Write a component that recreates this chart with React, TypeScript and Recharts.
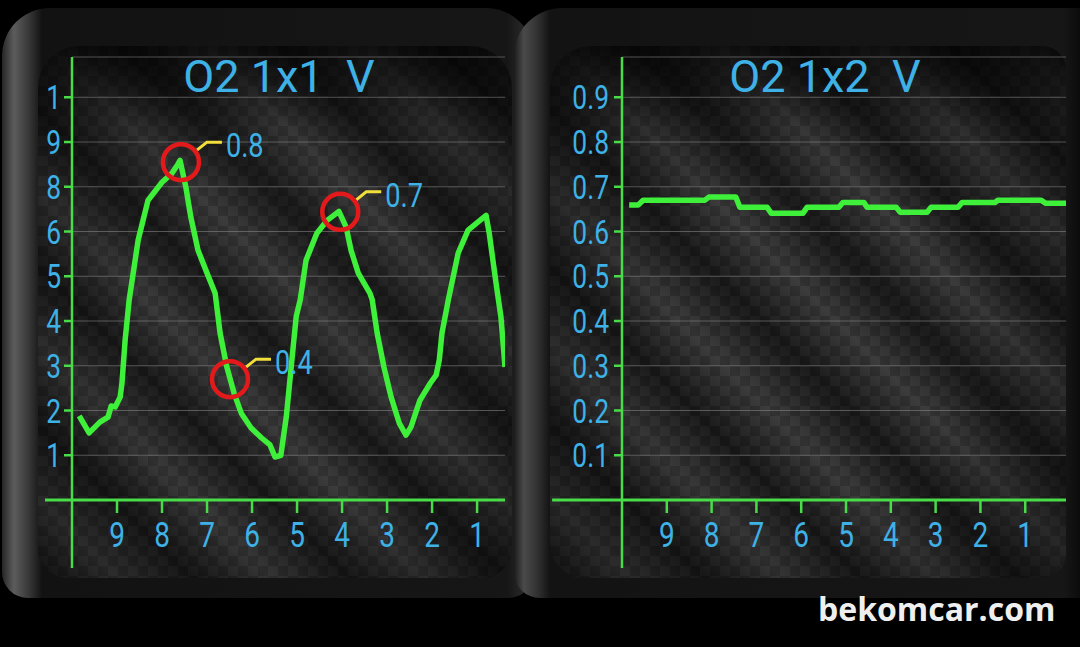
import React from 'react';
import {
  LineChart,
  Line,
  XAxis,
  YAxis,
  CartesianGrid,
  ReferenceLine,
  ReferenceDot,
} from 'recharts';

// seconds ago, shown on both panels
const xTicks = [9, 8, 7, 6, 5, 4, 3, 2, 1];
const yTicks = [0.1, 0.2, 0.3, 0.4, 0.5, 0.6, 0.7, 0.8, 0.9];
// the left gauge prints its labels cut off like this (bottom to top)
const leftYLabels = ['1', '2', '3', '4', '5', '6', '8', '9', '1'];
const rightYLabels = ['0.1', '0.2', '0.3', '0.4', '0.5', '0.6', '0.7', '0.8', '0.9'];

// O2 bank 1 sensor 1 (V)
const s1Time = [
  9.84, 9.62, 9.38, 9.2, 9.13, 9.04, 8.93, 8.89, 8.82, 8.73, 8.53, 8.31, 8.0, 7.78, 7.65, 7.6,
  7.47, 7.36, 7.2, 7.0, 6.82, 6.71, 6.56, 6.4, 6.24, 6.02, 5.78, 5.6, 5.49, 5.36, 5.24, 5.13,
  5.02, 4.93, 4.8, 4.56, 4.33, 4.07, 3.91, 3.8, 3.64, 3.38, 3.33, 3.22, 3.07, 2.91, 2.73, 2.58,
  2.47, 2.27, 2.04, 1.91, 1.84, 1.78, 1.64, 1.42, 1.2, 0.8, 0.73, 0.58, 0.47, 0.38,
];
const s1Volt = [
  0.188, 0.15, 0.174, 0.185, 0.21, 0.208, 0.23, 0.261, 0.357, 0.447, 0.581, 0.67, 0.71, 0.73, 0.75, 0.759,
  0.699, 0.632, 0.558, 0.507, 0.462, 0.373, 0.297, 0.239, 0.194, 0.161, 0.138, 0.123, 0.096, 0.1, 0.185, 0.297,
  0.409, 0.447, 0.536, 0.596, 0.625, 0.645, 0.61, 0.558, 0.507, 0.462, 0.447, 0.373, 0.297, 0.23, 0.172, 0.145,
  0.163, 0.223, 0.261, 0.279, 0.313, 0.373, 0.447, 0.552, 0.603, 0.636, 0.596, 0.485, 0.409, 0.297,
];

// O2 bank 1 sensor 2 (V)
const s2Time = [
  9.84, 9.64, 9.53, 8.15, 8.06, 7.46, 7.37, 6.76, 6.67, 5.96, 5.87, 5.16, 5.07, 4.6, 4.53, 3.88,
  3.79, 3.19, 3.1, 2.5, 2.41, 1.67, 1.61, 0.65, 0.54, 0.09,
];
const s2Volt = [
  0.659, 0.659, 0.67, 0.67, 0.677, 0.677, 0.654, 0.654, 0.641, 0.641, 0.654, 0.654, 0.665, 0.665, 0.654, 0.654,
  0.643, 0.643, 0.654, 0.654, 0.665, 0.665, 0.67, 0.67, 0.663, 0.663,
];

// circled readings on the first sensor
const markTime = [7.58, 6.49, 4.04];
const markVolt = [0.755, 0.27, 0.644];
const markText = ['0.8', '0.4', '0.7'];

const s1Data = s1Time.map((t, i) => ({ t, v: s1Volt[i] }));
const s2Data = s2Time.map((t, i) => ({ t, v: s2Volt[i] }));

const GREEN = '#3ff03a';
const AXIS = '#48dc48';
const BLUE = '#3eb1e6';
const FONT = 'Roboto, "Noto Sans", sans-serif';

function XTick(props: any) {
  const { x, y, payload } = props;
  return (
    <g transform={`translate(${x},${y}) scale(0.8,1)`}>
      <text x={0} y={34} textAnchor="middle" fill={BLUE} fontSize={35} fontFamily={FONT}>
        {payload.value}
      </text>
    </g>
  );
}

function makeYTick(labels: string[]) {
  return (props: any) => {
    const { x, y, payload } = props;
    const i = yTicks.indexOf(payload.value);
    return (
      <g transform={`translate(${x},${y}) scale(0.8,1)`}>
        <text x={0} y={12} textAnchor="end" fill={BLUE} fontSize={33} fontFamily={FONT}>
          {labels[i]}
        </text>
      </g>
    );
  };
}

function Callout({ cx, cy, text }: { cx: number; cy: number; text: string }) {
  return (
    <g>
      <polyline
        points={`${cx + 16},${cy - 12} ${cx + 26},${cy - 20} ${cx + 41},${cy - 20}`}
        fill="none"
        stroke="#f3df3c"
        strokeWidth={3}
      />
      <circle cx={cx} cy={cy} r={18} fill="none" stroke="#e21a1c" strokeWidth={4.5} />
      <g transform={`translate(${cx + 45},${cy - 5}) scale(0.8,1)`}>
        <text x={0} y={0} fill={BLUE} fontSize={34} fontFamily={FONT}>
          {text}
        </text>
      </g>
    </g>
  );
}

const carbon: React.CSSProperties = {
  backgroundColor: '#232323',
  backgroundImage: [
    'radial-gradient(ellipse at 50% 55%, rgba(0,0,0,0) 40%, rgba(0,0,0,0.45) 100%)',
    'linear-gradient(180deg, rgba(0,0,0,0.6) 0px, rgba(0,0,0,0) 80px)',
    'repeating-linear-gradient(45deg, rgba(0,0,0,0.35) 0px, rgba(255,255,255,0.08) 55px, rgba(0,0,0,0.35) 110px)',
    'conic-gradient(rgba(255,255,255,0.035) 0 25%, rgba(0,0,0,0.08) 0 50%, rgba(255,255,255,0.035) 0 75%, rgba(0,0,0,0.08) 0)',
  ].join(','),
  backgroundSize: '100% 100%, 100% 100%, auto, 20px 20px',
};

type PanelProps = {
  left: number;
  width: number;
  rightMargin: number;
  yAxisWidth: number;
  tickMargin: number;
  xMin: number;
  xLeftEnd: number;
  labels: string[];
  data: { t: number; v: number }[];
  marks: boolean;
};

function Panel(p: PanelProps) {
  const YTick = makeYTick(p.labels);
  return (
    <div style={{ position: 'absolute', left: p.left, top: 0 }}>
      <LineChart
        width={p.width}
        height={647}
        data={p.data}
        margin={{ top: 57, right: p.rightMargin, bottom: 107, left: 22 }}
      >
        <CartesianGrid vertical={false} stroke="#8a8a8a" strokeOpacity={0.55} strokeWidth={1} />
        <XAxis
          dataKey="t"
          type="number"
          domain={[p.xMin, 10]}
          reversed
          allowDataOverflow
          ticks={xTicks}
          height={40}
          tickSize={13}
          tickMargin={0}
          axisLine={{ stroke: AXIS, strokeWidth: 3 }}
          tickLine={{ stroke: AXIS, strokeWidth: 2.5 }}
          tick={XTick}
          interval={0}
        />
        <YAxis
          type="number"
          domain={[0, 0.99]}
          allowDataOverflow
          ticks={yTicks}
          width={p.yAxisWidth}
          tickSize={8}
          tickMargin={p.tickMargin}
          axisLine={{ stroke: AXIS, strokeWidth: 2.5 }}
          tickLine={{ stroke: AXIS, strokeWidth: 2.5 }}
          tick={YTick}
          interval={0}
        />
        <ReferenceLine
          segment={[{ x: 10, y: 0 }, { x: 10, y: -0.152 }]}
          stroke={AXIS}
          strokeWidth={2.5}
          ifOverflow="visible"
        />
        <ReferenceLine
          segment={[{ x: 10, y: 0 }, { x: p.xLeftEnd, y: 0 }]}
          stroke={AXIS}
          strokeWidth={3}
          ifOverflow="visible"
        />
        <Line
          type="linear"
          dataKey="v"
          stroke={GREEN}
          strokeWidth={5.5}
          dot={false}
          strokeLinejoin="round"
          isAnimationActive={false}
        />
        {p.marks &&
          markTime.map((t, i) => (
            <ReferenceDot
              key={i}
              x={t}
              y={markVolt[i]}
              r={18}
              shape={(sp: any) => <Callout cx={sp.cx} cy={sp.cy} text={markText[i]} />}
            />
          ))}
      </LineChart>
    </div>
  );
}

export default function App() {
  return (
    <div
      style={{
        position: 'absolute',
        left: 0,
        top: 0,
        width: 1080,
        height: 647,
        background: '#000',
        overflow: 'hidden',
      }}
    >
      {/* left bezel */}
      <div
        style={{
          position: 'absolute',
          left: 2,
          top: 8,
          width: 532,
          height: 590,
          borderRadius: '48px 48px 26px 26px',
          background:
            'linear-gradient(90deg, #262626 0px, #5c5c5c 12px, #3a3a3a 26px, #121212 40px, #161616 505px, #262626 520px, #141414 532px)',
        }}
      />
      {/* right bezel */}
      <div
        style={{
          position: 'absolute',
          left: 514,
          top: 8,
          width: 580,
          height: 590,
          borderRadius: '48px 0 0 26px',
          background:
            'linear-gradient(90deg, #1c1c1c 0px, #4a4a4a 10px, #303030 24px, #131313 36px, #161616 550px, #0c0c0c 566px)',
        }}
      />
      <div style={{ position: 'absolute', left: 38, top: 46, width: 474, height: 532, borderRadius: '42px 42px 30px 30px', ...carbon }} />
      <div style={{ position: 'absolute', left: 550, top: 46, width: 516, height: 532, borderRadius: '42px 24px 24px 34px', ...carbon }} />

      <Panel left={0} width={540} rightMargin={35} yAxisWidth={50} tickMargin={3} xMin={0.38} xLeftEnd={10.6} labels={leftYLabels} data={s1Data} marks />
      <Panel left={540} width={540} rightMargin={14} yAxisWidth={60} tickMargin={5} xMin={0.09} xLeftEnd={11.56} labels={rightYLabels} data={s2Data} marks={false} />

      <svg width={1080} height={647} style={{ position: 'absolute', left: 0, top: 0, pointerEvents: 'none' }}>
        <text x={279} y={92} textAnchor="middle" fill={BLUE} fontSize={45} fontFamily={FONT}>
          O2 1x1{'\u00a0\u00a0'}V
        </text>
        <text x={825} y={92} textAnchor="middle" fill={BLUE} fontSize={45} fontFamily={FONT}>
          O2 1x2{'\u00a0\u00a0'}V
        </text>
        <text x={818} y={621} fill="#efefef" fontSize={32} fontWeight={700} fontFamily='"Open Sans", sans-serif'>
          bekomcar.com
        </text>
      </svg>
    </div>
  );
}
